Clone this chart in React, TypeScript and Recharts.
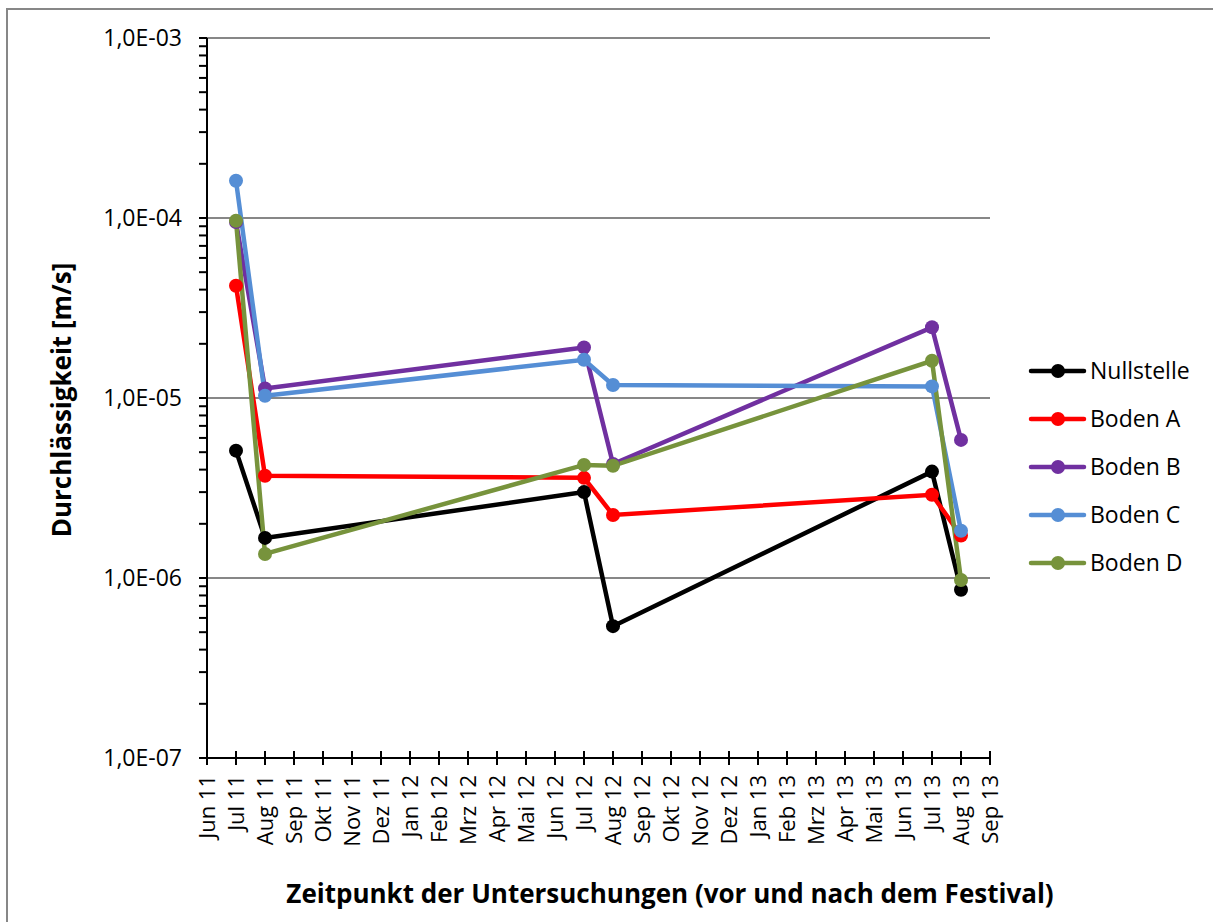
import React from 'react';
import { LineChart, Line, XAxis, YAxis, ReferenceLine, Legend } from 'recharts';

// ---- data ----
const monthLabels = [
  'Jun 11', 'Jul 11', 'Aug 11', 'Sep 11', 'Okt 11', 'Nov 11', 'Dez 11',
  'Jan 12', 'Feb 12', 'Mrz 12', 'Apr 12', 'Mai 12', 'Jun 12', 'Jul 12',
  'Aug 12', 'Sep 12', 'Okt 12', 'Nov 12', 'Dez 12', 'Jan 13', 'Feb 13',
  'Mrz 13', 'Apr 13', 'Mai 13', 'Jun 13', 'Jul 13', 'Aug 13', 'Sep 13',
];
const sampleMonths = ['Jul 11', 'Aug 11', 'Jul 12', 'Aug 12', 'Jul 13', 'Aug 13'];

const nullstelle = [5.1e-6, 1.67e-6, 3.0e-6, 5.4e-7, 3.9e-6, 8.6e-7];
const bodenA = [4.2e-5, 3.7e-6, 3.6e-6, 2.24e-6, 2.9e-6, 1.72e-6];
const bodenB = [9.5e-5, 1.13e-5, 1.91e-5, 4.3e-6, 2.47e-5, 5.85e-6];
const bodenC = [1.61e-4, 1.03e-5, 1.63e-5, 1.18e-5, 1.16e-5, 1.83e-6];
const bodenD = [9.66e-5, 1.36e-6, 4.25e-6, 4.2e-6, 1.61e-5, 9.75e-7];

const seriesNames = ['Nullstelle', 'Boden A', 'Boden B', 'Boden C', 'Boden D'];
const seriesKeys = ['n', 'a', 'b', 'c', 'd'];
const seriesColors = ['#000000', '#FF0000', '#7030A0', '#558ED5', '#77933C'];
const seriesValues = [nullstelle, bodenA, bodenB, bodenC, bodenD];

const decadeValues = [1e-7, 1e-6, 1e-5, 1e-4, 1e-3];
const decadeLabels = ['1,0E-07', '1,0E-06', '1,0E-05', '1,0E-04', '1,0E-03'];

const xTitle = 'Zeitpunkt der Untersuchungen (vor und nach dem Festival)';
const yTitle = 'Durchlässigkeit [m/s]';

// ---- derived ----
const data = sampleMonths.map((m, i) => {
  const row: Record<string, number> = { m: monthLabels.indexOf(m) };
  seriesKeys.forEach((k, s) => {
    row[k] = seriesValues[s][i];
  });
  return row;
});

const yTicks: number[] = [];
for (let e = -7; e < -3; e++) {
  for (let k = 1; k <= 9; k++) yTicks.push(k * Math.pow(10, e));
}
yTicks.push(1e-3);
const xTicks = monthLabels.map((_, i) => i);

const FONT = '"Open Sans", sans-serif';

const YTick = (props: any) => {
  const { x, y, payload } = props;
  const v = payload.value;
  const idx = decadeValues.findIndex((d) => Math.abs(v / d - 1) < 1e-6);
  return (
    <g>
      <line x1={x - 8} x2={x} y1={y} y2={y} stroke="#000" strokeWidth={2} />
      {idx >= 0 && (
        <text x={x - 25} y={y} dy="0.36em" textAnchor="end" fontSize={23} fill="#000" fontFamily={FONT}>
          {decadeLabels[idx]}
        </text>
      )}
    </g>
  );
};

const XTick = (props: any) => {
  const { x, y, payload } = props;
  return (
    <g>
      <line x1={x} x2={x} y1={y - 7} y2={y + 7} stroke="#000" strokeWidth={2} />
      <text
        transform={`translate(${x},${y + 17}) rotate(-90)`}
        textAnchor="end"
        dy="0.36em"
        fontSize={22}
        fill="#000"
        fontFamily={FONT}
      >
        {monthLabels[payload.value]}
      </text>
    </g>
  );
};

const LegendContent = (props: any) => {
  const payload = [...(props.payload || [])].sort(
    (p: any, q: any) => seriesNames.indexOf(p.value) - seriesNames.indexOf(q.value)
  );
  return (
    <svg width={200} height={240} style={{ display: 'block' }}>
      {payload.map((p: any, i: number) => {
        const cy = 23 + i * 48;
        return (
          <g key={i}>
            <line x1={8} x2={61} y1={cy} y2={cy} stroke={p.color} strokeWidth={4.5} strokeLinecap="round" />
            <circle cx={35} cy={cy} r={7} fill={p.color} />
            <text x={67} y={cy} dy="0.36em" fontSize={23} fill="#000" fontFamily={FONT}>
              {p.value}
            </text>
          </g>
        );
      })}
    </svg>
  );
};

export default function App() {
  return (
    <div
      style={{
        position: 'absolute',
        left: 0,
        top: 0,
        width: 1213,
        height: 922,
        overflow: 'hidden',
        background: '#fff',
        fontFamily: FONT,
      }}
    >
      <div
        style={{
          position: 'absolute',
          left: 6,
          top: 8,
          width: 1260,
          height: 960,
          border: '2px solid #878787',
          boxSizing: 'border-box',
        }}
      />
      <div style={{ position: 'absolute', left: 8, top: 8 }}>
        <LineChart width={1205} height={914} data={data} margin={{ top: 30, right: 223, left: 0, bottom: 0 }}>
          <XAxis
            dataKey="m"
            type="number"
            domain={[0, 27]}
            ticks={xTicks}
            interval={0}
            height={164}
            tickSize={0}
            tickMargin={0}
            tickLine={false}
            axisLine={{ stroke: '#000', strokeWidth: 2 }}
            tick={<XTick />}
          />
          <YAxis
            type="number"
            scale="log"
            domain={[1e-7, 1e-3]}
            allowDataOverflow
            ticks={yTicks}
            interval={0}
            width={199}
            tickSize={0}
            tickMargin={0}
            tickLine={false}
            axisLine={{ stroke: '#000', strokeWidth: 2 }}
            tick={<YTick />}
          />
          {decadeValues.slice(1).map((v) => (
            <ReferenceLine key={v} y={v} stroke="#878787" strokeWidth={2} />
          ))}
          <Legend
            layout="vertical"
            align="center"
            verticalAlign="middle"
            content={<LegendContent />}
            wrapperStyle={{ left: 1015, top: 340, width: 200, height: 240 }}
          />
          {seriesKeys.map((k, s) => (
            <Line
              key={k}
              dataKey={k}
              name={seriesNames[s]}
              stroke={seriesColors[s]}
              strokeWidth={4.5}
              dot={{ r: 7, fill: seriesColors[s], stroke: seriesColors[s], strokeWidth: 0 }}
              activeDot={false}
              isAnimationActive={false}
            />
          ))}
        </LineChart>
      </div>
      <svg
        width={1213}
        height={922}
        style={{ position: 'absolute', left: 0, top: 0, pointerEvents: 'none' }}
      >
        <text
          x={670}
          y={903}
          textAnchor="middle"
          fontSize={26}
          fontWeight="bold"
          fill="#000"
          fontFamily={FONT}
        >
          {xTitle}
        </text>
        <text
          transform="translate(62,400) rotate(-90)"
          textAnchor="middle"
          dy="0.36em"
          fontSize={26}
          fontWeight="bold"
          fill="#000"
          fontFamily={FONT}
        >
          {yTitle}
        </text>
      </svg>
    </div>
  );
}
